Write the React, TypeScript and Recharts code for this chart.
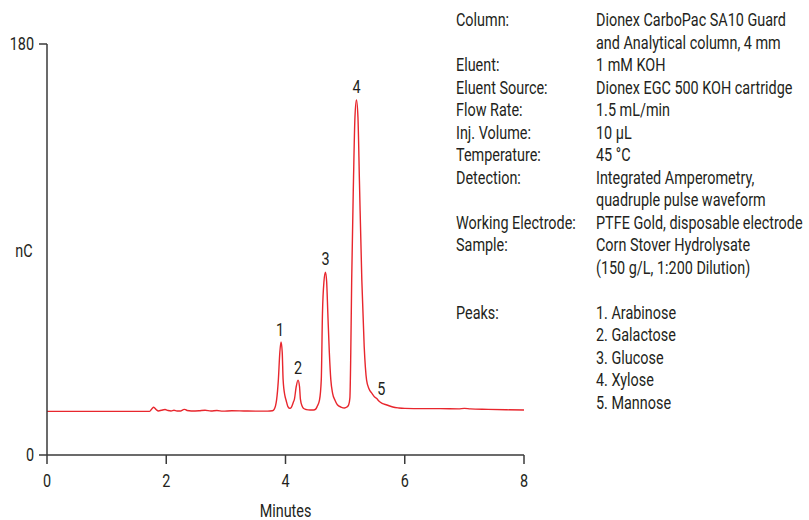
import { LineChart, Line, XAxis, YAxis, ReferenceDot } from 'recharts';

// retention time (min) and detector response (nC)
const minutes = [
  0, 0.5, 1.0, 1.5, 1.72, 1.76, 1.79, 1.83, 1.87, 1.92, 1.98, 2.03, 2.08, 2.13, 2.18,
  2.24, 2.28, 2.31, 2.35, 2.42, 2.55, 2.65, 2.75, 2.85, 2.95, 3.1, 3.3, 3.5, 3.7, 3.78,
  3.81, 3.85, 3.88, 3.905, 3.925, 3.945, 3.96, 3.99, 4.01, 4.04, 4.075, 4.1, 4.13, 4.15,
  4.18, 4.21, 4.235, 4.25, 4.28, 4.3, 4.35, 4.41, 4.47, 4.51, 4.53, 4.57, 4.6, 4.62,
  4.645, 4.67, 4.69, 4.71, 4.735, 4.76, 4.79, 4.83, 4.87, 4.93, 4.99, 5.03, 5.06, 5.08,
  5.095, 5.11, 5.14, 5.165, 5.19, 5.215, 5.24, 5.28, 5.32, 5.36, 5.4, 5.45, 5.5, 5.53,
  5.57, 5.62, 5.7, 5.8, 5.9, 6.0, 6.3, 6.6, 6.9, 7.0, 7.1, 7.4, 7.7, 8.0,
];
const response = [
  19.1, 19.1, 19.1, 19.1, 19.1, 20.3, 20.9, 19.9, 19.3, 19.6, 19.9, 19.5, 19.3, 19.6, 19.3,
  19.3, 19.8, 20.0, 19.5, 19.3, 19.4, 19.6, 19.3, 19.5, 19.2, 19.4, 19.3, 19.2, 19.2, 19.4,
  20.0, 24.0, 32.8, 45.0, 49.5, 45.0, 33.0, 26.0, 24.0, 21.2, 20.4, 21.0, 23.0, 24.5,
  30.0, 32.8, 30.0, 24.5, 21.3, 20.5, 19.9, 19.7, 19.7, 20.2, 21.2, 24.0, 33.0, 62.0,
  76.0, 80.1, 76.0, 62.0, 45.0, 33.0, 27.0, 24.0, 22.0, 21.0, 20.6, 21.0, 22.0, 25.0,
  45.0, 76.6, 120.0, 148.0, 155.5, 148.0, 120.0, 76.6, 47.4, 32.8, 29.0, 27.0, 25.3, 24.7,
  23.5, 22.6, 21.9, 21.0, 20.6, 20.4, 20.3, 20.3, 20.2, 20.4, 20.2, 20.0, 19.8, 19.7,
];

const peakNames = ['1', '2', '3', '4', '5'];
const peakMinutes = [3.925, 4.21, 4.67, 5.19, 5.53];
const peakResponse = [49.5, 32.8, 80.1, 155.5, 24.7];

const xTicks = [0, 2, 4, 6, 8];
const yTicks = [0, 180];

const infoLabels = [
  'Column:', '', 'Eluent:', 'Eluent Source:', 'Flow Rate:', 'Inj. Volume:', 'Temperature:',
  'Detection:', '', 'Working Electrode:', 'Sample:', '', '', 'Peaks:', '', '', '', '',
];
const infoValues = [
  'Dionex CarboPac SA10 Guard', 'and Analytical column, 4 mm', '1 mM KOH',
  'Dionex EGC 500 KOH cartridge', '1.5 mL/min', '10 µL', '45 °C',
  'Integrated Amperometry,', 'quadruple pulse waveform', 'PTFE Gold, disposable electrode',
  'Corn Stover Hydrolysate', '(150 g/L, 1:200 Dilution)', '',
  '1. Arabinose', '2. Galactose', '3. Glucose', '4. Xylose', '5. Mannose',
];

const data = minutes.map((t, i) => ({ t, nc: response[i] }));

const FONT = 'Roboto, "Noto Sans", sans-serif';
const INK = '#231f20';
const AXIS = '#3a3a3a';
const SQUEEZE = 0.8; // fake a condensed face

// offsets of the peak numbers from the apex (dx, gap above)
const PEAK_LABEL_OFFSET = [[-1, 5.6], [0, 6], [0, 7], [0, 6.7], [4.5, 3.5]];

const YTick = (props: any) => {
  const { x, y, payload } = props;
  return (
    <g transform={`translate(${x},${y}) scale(${SQUEEZE},1)`}>
      <text x={0} y={0} dy="0.355em" textAnchor="end" fontSize={18} fontFamily={FONT} fill={INK}>
        {payload.value}
      </text>
    </g>
  );
};

const XTick = (props: any) => {
  const { x, y, payload } = props;
  return (
    <g transform={`translate(${x},${y}) scale(${SQUEEZE},1)`}>
      <text x={0} y={0} dy="0.71em" textAnchor="middle" fontSize={18} fontFamily={FONT} fill={INK}>
        {payload.value}
      </text>
    </g>
  );
};

const squeezedText = (x: number, y: number, s: string, anchor = 'middle') => (
  <g transform={`translate(${x},${y}) scale(${SQUEEZE},1)`}>
    <text x={0} y={0} textAnchor={anchor} fontSize={18} fontFamily={FONT} fill={INK}>{s}</text>
  </g>
);

export default function App() {
  return (
    <div style={{ position: 'relative', width: 809, height: 520, overflow: 'hidden', background: '#fff' }}>
      <style>{'body{margin:0;}'}</style>
      <LineChart width={540} height={520} data={data} margin={{ top: 44, right: 16, left: 0, bottom: 0 }}>
        <XAxis
          dataKey="t"
          type="number"
          domain={[0, 8]}
          ticks={xTicks}
          height={65}
          tickSize={9}
          tickMargin={10}
          tick={<XTick />}
          stroke={AXIS}
          strokeWidth={1.5}
          label={{
            content: (p: any) => squeezedText(p.viewBox.x + p.viewBox.width / 2, 517, 'Minutes'),
          }}
        />
        <YAxis
          type="number"
          domain={[0, 180]}
          ticks={yTicks}
          width={47}
          tickSize={8}
          tickMargin={5}
          tick={<YTick />}
          stroke={AXIS}
          strokeWidth={1.5}
          label={{
            content: (p: any) => squeezedText(24, p.viewBox.y + p.viewBox.height / 2 + 7, 'nC'),
          }}
        />
        <Line
          type="monotone"
          dataKey="nc"
          stroke="#e8262d"
          strokeWidth={1.4}
          dot={false}
          activeDot={false}
          isAnimationActive={false}
        />
        {peakNames.map((name, i) => (
          <ReferenceDot
            key={name}
            x={peakMinutes[i]}
            y={peakResponse[i]}
            r={0}
            shape={(p: any) =>
              squeezedText(p.cx + PEAK_LABEL_OFFSET[i][0], p.cy - PEAK_LABEL_OFFSET[i][1], name)
            }
          />
        ))}
      </LineChart>

      <div
        style={{
          position: 'absolute',
          left: 456,
          top: 9.3,
          transform: `scaleX(${SQUEEZE})`,
          transformOrigin: 'left top',
          fontFamily: FONT,
          fontSize: 18,
          lineHeight: '22.5px',
          color: INK,
          whiteSpace: 'nowrap',
        }}
      >
        {infoLabels.map((lab, i) => (
          <div key={i} style={{ display: 'flex', height: 22.5 }}>
            <div style={{ width: (596 - 456) / SQUEEZE }}>{lab}</div>
            <div>{infoValues[i]}</div>
          </div>
        ))}
      </div>
    </div>
  );
}
